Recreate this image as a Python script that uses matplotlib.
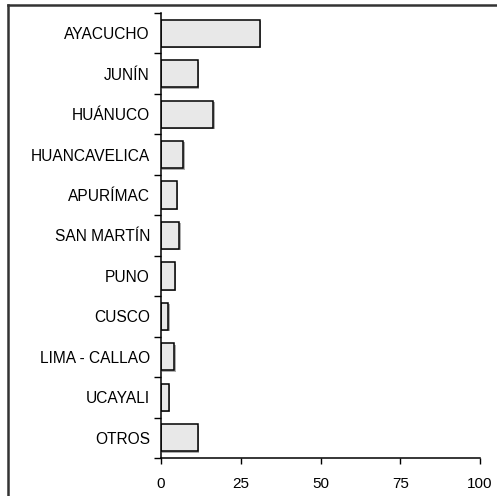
import matplotlib
matplotlib.use("Agg")
import matplotlib.pyplot as plt
import matplotlib.patheffects as pe
from matplotlib.lines import Line2D
import numpy as np

plt.rcParams['font.family'] = ['Liberation Sans', 'DejaVu Sans']

categories = ["AYACUCHO", "JUNÍN", "HUÁNUCO", "HUANCAVELICA", "APURÍMAC",
              "SAN MARTÍN", "PUNO", "CUSCO", "LIMA - CALLAO", "UCAYALI", "OTROS"]
values = [30.9, 11.5, 16.4, 7.0, 5.0, 5.7, 4.3, 2.3, 4.2, 2.4, 11.6]
xticks = [0, 25, 50, 75, 100]

fig = plt.figure(figsize=(4.97, 4.96), dpi=100)
ax = fig.add_axes([161/497, 38/496, 319/497, 445/496])

n = len(categories)
ypos = np.arange(n)
bars = ax.barh(ypos, values, height=0.67, color="#e8e8e8", edgecolor="black",
               linewidth=1.1)
for b in bars:
    b.set_path_effects([pe.SimplePatchShadow(offset=(1.0, -1.0), shadow_rgbFace="#999999", alpha=0.8),
                        pe.Normal()])

ax.set_ylim(n - 0.5, -0.5)
ax.set_xlim(0, 100)
ax.set_xticks(xticks)
ax.set_xticklabels([str(t) for t in xticks], fontsize=11)
ax.set_yticks(ypos)
ax.set_yticklabels(categories, fontsize=11.2)
ax.set_yticks(np.arange(-0.5, n, 1.0), minor=True)
ax.tick_params(axis='y', which='major', length=0, pad=8)
ax.tick_params(axis='y', which='minor', length=5, width=1, direction='out')
ax.tick_params(axis='x', which='major', length=4, width=1, direction='out', pad=10)

for s in ['top', 'right']:
    ax.spines[s].set_visible(False)
for s in ['left', 'bottom']:
    ax.spines[s].set_linewidth(1.1)

# outer frame (left and top only visible)
fig.add_artist(Line2D([8/497, 8/497], [0, 1 - 5/496], transform=fig.transFigure,
                      color="#333333", linewidth=1.8))
fig.add_artist(Line2D([8/497, 1], [1 - 5/496, 1 - 5/496], transform=fig.transFigure,
                      color="#333333", linewidth=1.8))

fig.savefig("out.png", dpi=100)
